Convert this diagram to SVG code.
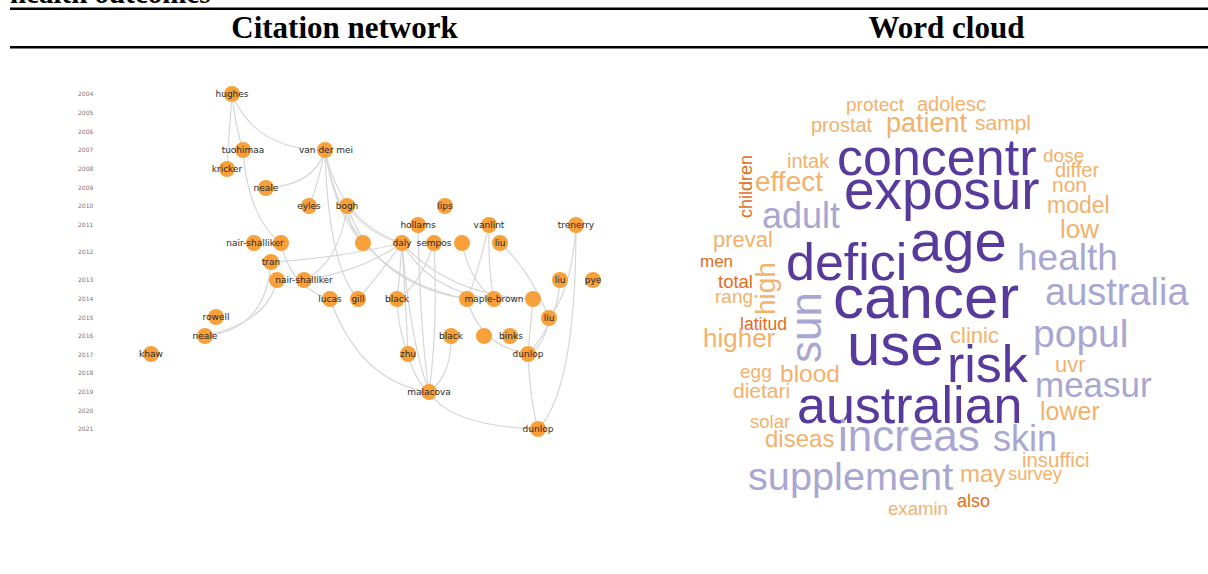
<svg xmlns="http://www.w3.org/2000/svg" width="1208" height="574" viewBox="0 0 1208 574">
<style>
.hd{font-family:"Liberation Serif","Times New Roman",serif;font-weight:bold;fill:#000}
.yr{font-family:"DejaVu Sans",sans-serif;font-size:6px;fill:#777}
.nd circle{fill:#f8a03a}
.nd text{font-family:"DejaVu Sans",sans-serif;font-size:9px;fill:#2a2a2a;text-anchor:middle}
.ed path{fill:none;stroke:#d6d6da;stroke-width:1.2}
.w{font-family:"Liberation Sans",Arial,sans-serif}
.dp{fill:#573a9c}
.lv{fill:#a9a7d1}
.lo{fill:#f4b16b}
.do{fill:#df6d1e}
</style>
<rect width="1208" height="574" fill="#fff"/>
<text class="hd" x="10" y="3" font-size="29">health outcomes</text>
<line x1="10" y1="8.7" x2="1208" y2="8.7" stroke="#000" stroke-width="2.5"/>
<text class="hd" x="344.5" y="38" font-size="31" text-anchor="middle">Citation network</text>
<text class="hd" x="946.5" y="38" font-size="31" text-anchor="middle">Word cloud</text>
<line x1="10" y1="47.3" x2="1208" y2="47.3" stroke="#000" stroke-width="2.5"/>

<g id="years">
<text class="yr" x="78" y="96">2004</text>
<text class="yr" x="78" y="115">2005</text>
<text class="yr" x="78" y="134">2006</text>
<text class="yr" x="78" y="152">2007</text>
<text class="yr" x="78" y="171">2008</text>
<text class="yr" x="78" y="190">2009</text>
<text class="yr" x="78" y="208">2010</text>
<text class="yr" x="78" y="227">2011</text>
<text class="yr" x="78" y="254">2012</text>
<text class="yr" x="78" y="282">2013</text>
<text class="yr" x="78" y="301">2014</text>
<text class="yr" x="78" y="320">2015</text>
<text class="yr" x="78" y="338">2016</text>
<text class="yr" x="78" y="357">2017</text>
<text class="yr" x="78" y="375">2018</text>
<text class="yr" x="78" y="394">2019</text>
<text class="yr" x="78" y="413">2020</text>
<text class="yr" x="78" y="431">2021</text>
</g>

<g id="connectors" class="ed">
<path d="M232,94 Q229,135 227,169"/>
<path d="M232,94 Q235,125 243,150"/>
<path d="M232,94 Q255,150 325,150"/>
<path d="M325,150 Q315,185 266,188"/>
<path d="M325,150 Q318,185 309,206"/>
<path d="M325,150 Q328,265 358,299"/>
<path d="M325,150 Q335,215 363,243"/>
<path d="M325,150 Q340,222 402,243"/>
<path d="M325,150 Q345,275 467,299"/>
<path d="M243,150 Q248,218 281,243"/>
<path d="M281,243 Q290,287 330,299"/>
<path d="M271,262 Q340,258 402,243"/>
<path d="M304,280 Q360,272 402,243"/>
<path d="M347,206 Q340,262 304,280"/>
<path d="M205,336 Q266,330 271,262"/>
<path d="M205,336 Q268,322 277,280"/>
<path d="M347,206 Q350,232 363,243"/>
<path d="M347,206 Q370,236 402,243"/>
<path d="M347,206 Q375,285 467,299"/>
<path d="M402,243 Q400,275 397,299"/>
<path d="M402,243 Q406,310 408,354"/>
<path d="M402,243 Q410,340 429,392"/>
<path d="M402,243 Q430,292 494,299"/>
<path d="M402,243 Q450,296 533,299"/>
<path d="M402,243 Q375,280 358,299"/>
<path d="M418,225 Q420,330 429,392"/>
<path d="M434,243 Q438,330 429,392"/>
<path d="M434,243 Q420,286 397,299"/>
<path d="M451,336 Q452,375 429,392"/>
<path d="M330,299 Q360,382 429,392"/>
<path d="M429,392 Q450,426 538,429"/>
<path d="M528,354 Q530,400 538,429"/>
<path d="M576,225 Q576,390 538,429"/>
<path d="M576,225 Q572,290 549,318"/>
<path d="M560,280 Q558,322 528,354"/>
<path d="M489,225 Q488,270 494,299"/>
<path d="M489,225 Q476,280 467,299"/>
<path d="M462,243 Q470,282 494,299"/>
<path d="M500,243 Q530,270 549,318"/>
<path d="M467,299 Q480,346 528,354"/>
<path d="M533,299 Q530,330 528,354"/>
<path d="M549,318 Q545,346 528,354"/>
<path d="M397,299 Q398,330 408,354"/>
<path d="M408,354 Q415,381 429,392"/>
</g>

<g id="n-hughes" class="nd"><circle cx="232" cy="94" r="8"/><text x="232" y="97">hughes</text></g>
<g id="n-tuohimaa" class="nd"><circle cx="243" cy="150" r="8"/><text x="243" y="153">tuohimaa</text></g>
<g id="n-kricker" class="nd"><circle cx="227" cy="169" r="8"/><text x="227" y="172">kricker</text></g>
<g id="n-vandermei" class="nd"><circle cx="325" cy="150" r="8"/><text x="326" y="153">van der mei</text></g>
<g id="n-neale2009" class="nd"><circle cx="266" cy="188" r="8"/><text x="266" y="191">neale</text></g>
<g id="n-eyles" class="nd"><circle cx="309" cy="206" r="8"/><text x="309" y="209">eyles</text></g>
<g id="n-bogh" class="nd"><circle cx="347" cy="206" r="8"/><text x="347" y="209">bogh</text></g>
<g id="n-lips" class="nd"><circle cx="445" cy="206" r="8"/><text x="445" y="209">lips</text></g>
<g id="n-hollams" class="nd"><circle cx="418" cy="225" r="8"/><text x="418" y="228">hollams</text></g>
<g id="n-vanlint" class="nd"><circle cx="489" cy="225" r="8"/><text x="489" y="228">vanlint</text></g>
<g id="n-trenerry" class="nd"><circle cx="576" cy="225" r="8"/><text x="576" y="228">trenerry</text></g>
<g id="n-nairshalliker2012" class="nd"><circle cx="254" cy="243" r="8"/><circle cx="281" cy="243" r="8"/><text x="255" y="246">nair-shalliker</text></g>
<g id="n-u1" class="nd"><circle cx="363" cy="243" r="8"/></g>
<g id="n-daly" class="nd"><circle cx="402" cy="243" r="8"/><text x="402" y="246">daly</text></g>
<g id="n-sempos" class="nd"><circle cx="434" cy="243" r="8"/><text x="434" y="246">sempos</text></g>
<g id="n-u2" class="nd"><circle cx="462" cy="243" r="8"/></g>
<g id="n-liu2012" class="nd"><circle cx="500" cy="243" r="8"/><text x="500" y="246">liu</text></g>
<g id="n-tran" class="nd"><circle cx="271" cy="262" r="8"/><text x="271" y="265">tran</text></g>
<g id="n-nairshalliker2013" class="nd"><circle cx="277" cy="280" r="8"/><circle cx="304" cy="280" r="8"/><text x="304" y="283">nair-shalliker</text></g>
<g id="n-liu2013" class="nd"><circle cx="560" cy="280" r="8"/><text x="560" y="283">liu</text></g>
<g id="n-pye" class="nd"><circle cx="593" cy="280" r="8"/><text x="593" y="283">pye</text></g>
<g id="n-lucas" class="nd"><circle cx="330" cy="299" r="8"/><text x="330" y="302">lucas</text></g>
<g id="n-gill" class="nd"><circle cx="358" cy="299" r="8"/><text x="358" y="302">gill</text></g>
<g id="n-black2014" class="nd"><circle cx="397" cy="299" r="8"/><text x="397" y="302">black</text></g>
<g id="n-maplebrown" class="nd"><circle cx="467" cy="299" r="8"/><circle cx="494" cy="299" r="8"/><text x="494" y="302">maple-brown</text></g>
<g id="n-u3" class="nd"><circle cx="533" cy="299" r="8"/></g>
<g id="n-rowell" class="nd"><circle cx="216" cy="317" r="8"/><text x="216" y="320">rowell</text></g>
<g id="n-liu2015" class="nd"><circle cx="549" cy="318" r="8"/><text x="549" y="321">liu</text></g>
<g id="n-neale2016" class="nd"><circle cx="205" cy="336" r="8"/><text x="205" y="339">neale</text></g>
<g id="n-black2016" class="nd"><circle cx="451" cy="336" r="8"/><text x="451" y="339">black</text></g>
<g id="n-u4" class="nd"><circle cx="484" cy="336" r="8"/></g>
<g id="n-binks" class="nd"><circle cx="510" cy="336" r="8"/><text x="511" y="339">binks</text></g>
<g id="n-khaw" class="nd"><circle cx="151" cy="354" r="8"/><text x="151" y="357">khaw</text></g>
<g id="n-zhu" class="nd"><circle cx="408" cy="354" r="8"/><text x="408" y="357">zhu</text></g>
<g id="n-dunlop2017" class="nd"><circle cx="528" cy="354" r="8"/><text x="528" y="357">dunlop</text></g>
<g id="n-malacova" class="nd"><circle cx="429" cy="392" r="8"/><text x="429" y="395">malacova</text></g>
<g id="n-dunlop2021" class="nd"><circle cx="538" cy="429" r="8"/><text x="538" y="432">dunlop</text></g>

<g id="wordcloud" class="w">
<text class="lo" x="846" y="111" font-size="19">protect</text>
<text class="lo" x="917" y="111" font-size="20">adolesc</text>
<text class="lo" x="811" y="132" font-size="20">prostat</text>
<text class="lo" x="886" y="132" font-size="27">patient</text>
<text class="lo" x="975" y="130" font-size="21">sampl</text>
<text class="lo" x="787" y="168" font-size="20">intak</text>
<text class="lo" x="755" y="191" font-size="28">effect</text>
<text class="do" transform="translate(752,218) rotate(-90)" font-size="18">children</text>
<text class="dp" x="837" y="175" font-size="52">concentr</text>
<text class="dp" x="844" y="209" font-size="55">exposur</text>
<text class="lo" x="1043" y="162" font-size="19">dose</text>
<text class="lo" x="1055" y="177" font-size="20">differ</text>
<text class="lo" x="1052" y="192" font-size="21">non</text>
<text class="lo" x="1047" y="213" font-size="23">model</text>
<text class="lo" x="1060" y="238" font-size="26">low</text>
<text class="lv" x="762" y="228" font-size="36">adult</text>
<text class="lo" x="713" y="247" font-size="22">preval</text>
<text class="dp" x="910" y="261" font-size="58">age</text>
<text class="lv" x="1017" y="270" font-size="37">health</text>
<text class="dp" x="786" y="280" font-size="52">defici</text>
<text class="do" x="700" y="267" font-size="17">men</text>
<text class="do" x="718" y="288" font-size="18.5">total</text>
<text class="lo" x="715" y="303" font-size="19">rang</text>
<text class="lo" transform="translate(775,315) rotate(-90)" font-size="28">high</text>
<text class="do" x="740" y="330" font-size="17.6">latitud</text>
<text class="lo" x="703" y="347" font-size="26">higher</text>
<text class="lv" transform="translate(821,363) rotate(-90)" font-size="44">sun</text>
<text class="dp" x="833" y="318" font-size="62">cancer</text>
<text class="lv" x="1045" y="305" font-size="38">australia</text>
<text class="lo" x="950" y="343" font-size="22">clinic</text>
<text class="lv" x="1033" y="347" font-size="39">popul</text>
<text class="dp" x="847" y="365" font-size="60">use</text>
<text class="dp" x="947" y="382" font-size="52">risk</text>
<text class="lo" x="1055" y="372" font-size="22">uvr</text>
<text class="lv" x="1035" y="397" font-size="35">measur</text>
<text class="lo" x="740" y="378" font-size="19">egg</text>
<text class="lo" x="780" y="382" font-size="24.5">blood</text>
<text class="lo" x="733" y="398" font-size="21">dietari</text>
<text class="dp" x="797" y="423" font-size="52">australian</text>
<text class="lo" x="1040" y="420" font-size="25">lower</text>
<text class="lo" x="750" y="428" font-size="18.5">solar</text>
<text class="lo" x="765" y="447" font-size="24">diseas</text>
<text class="lv" x="838" y="451" font-size="44">increas</text>
<text class="lv" x="993" y="451" font-size="36">skin</text>
<text class="lo" x="1022" y="467" font-size="20.4">insuffici</text>
<text class="lv" x="748" y="490" font-size="39.7">supplement</text>
<text class="lo" x="960" y="482" font-size="24">may</text>
<text class="lo" x="1008" y="480" font-size="18.3">survey</text>
<text class="do" x="957" y="507" font-size="18">also</text>
<text class="lo" x="888" y="515" font-size="18.6">examin</text>
</g>
</svg>
